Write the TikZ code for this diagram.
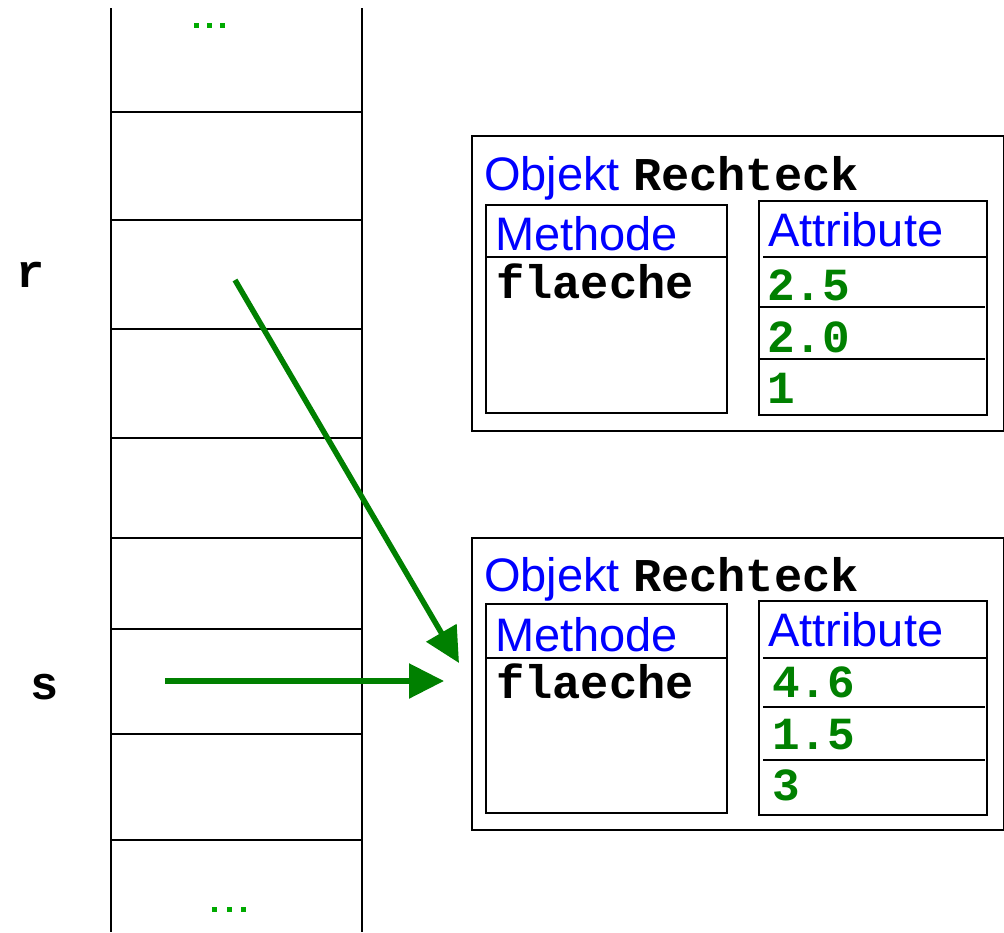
\documentclass[tikz,border=0pt]{standalone}
\usepackage{fontspec}
\setmainfont{Liberation Sans}
\setmonofont{Liberation Mono}
\usetikzlibrary{arrows.meta}
\definecolor{tgreen}{RGB}{0,128,0}
\definecolor{dgreen}{RGB}{0,170,0}
\tikzset{
  ln/.style={line width=2.6pt,black},
  bx/.style={draw,line width=2.8pt},
  outer/.style={draw,line width=2pt,anchor=north west,inner sep=0pt},
  lbl/.style={inner sep=0pt,anchor=base west,font=\fontsize{47}{50}\selectfont},
  blue lbl/.style={lbl,text=blue},
  code/.style={inner sep=0pt,anchor=base west,font=\fontsize{47}{50}\selectfont\ttfamily\bfseries},
  num/.style={code,text=tgreen,font=\fontsize{46}{50}\selectfont\ttfamily\bfseries},
  var/.style={inner sep=0pt,anchor=base,font=\fontsize{47}{50}\selectfont\ttfamily\bfseries},
  ptr/.style={tgreen,line width=5.5pt,-{Triangle[length=35pt 0,width=34pt 0]}},
  dot/.style={fill=dgreen,inner sep=0pt,minimum size=5pt}
}
\begin{document}
\begin{tikzpicture}[x=1pt,y=-1pt]
\useasboundingbox (0,0) rectangle (1004,932);
% stack
\draw[ln] (111,8) -- (111,932);
\draw[ln] (362,8) -- (362,932);
\foreach \yy in {112,220,329,438,538,629,734,840}
  \draw[ln] (111,\yy) -- (362,\yy);
\foreach \xx in {196,209,222} \node[dot] at (\xx,25) {};
\foreach \xx in {214,229,243} \node[dot] at (\xx,909) {};
\node[var] (r) at (31,287) {r};
\node[var] (s) at (45,699) {s};
% object 1
\node[outer,minimum width=532pt,minimum height=295pt] (o1) at (471,135) {};
\node[blue lbl] (o1t) at (484,190) {Objekt \textcolor{black}{\ttfamily\bfseries Rechteck}};
\draw[bx] (486,205) rectangle (727,413);
\draw[ln] (486,257) -- (727,257);
\node[blue lbl] (m1) at (495,250) {Methode};
\node[code] (f1) at (496,298) {flaeche};
\draw[bx] (759,201) rectangle (987,415);
\draw[ln] (763,257) -- (987,257);
\draw[ln] (759,307) -- (985,307);
\draw[ln] (759,359) -- (985,359);
\node[blue lbl] (a1) at (768,246) {Attribute};
\node[num] (n11) at (767,300) {2.5};
\node[num] (n12) at (767,352) {2.0};
\node[num] (n13) at (767,403) {1};
% object 2
\node[outer,minimum width=532pt,minimum height=292pt] (o2) at (471,537) {};
\node[blue lbl] (o2t) at (484,591) {Objekt \textcolor{black}{\ttfamily\bfseries Rechteck}};
\draw[bx] (486,604) rectangle (727,813);
\draw[ln] (486,658) -- (727,658);
\node[blue lbl] (m2) at (495,651) {Methode};
\node[code] (f2) at (496,698) {flaeche};
\draw[bx] (759,601) rectangle (987,815);
\draw[ln] (763,658) -- (987,658);
\draw[ln] (763,707) -- (985,707);
\draw[ln] (763,760) -- (985,760);
\node[blue lbl] (a2) at (768,646) {Attribute};
\node[num] (n21) at (772,697) {4.6};
\node[num] (n22) at (772,749) {1.5};
\node[num] (n23) at (772,800) {3};
% pointers
\coordinate (rs) at (235,280);
\coordinate (re) at (459,663);
\coordinate (ss) at (165,681);
\coordinate (se) at (444,681);
\draw[ptr] (rs) -- (re);
\draw[ptr] (ss) -- (se);
\end{tikzpicture}
\end{document}
